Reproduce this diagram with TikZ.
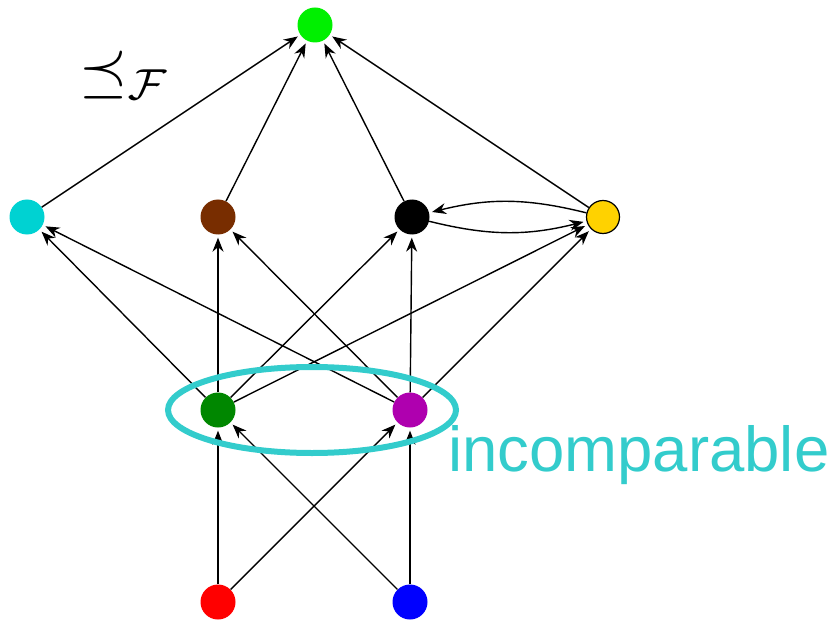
\documentclass[tikz,border=0pt]{standalone}
\usepackage{fontspec}
\newfontfamily\arialfont{Liberation Sans}
\usetikzlibrary{arrows.meta,shapes.geometric}
\begin{document}
\begin{tikzpicture}[x=1pt,y=-1pt,
  vtx/.style={circle,minimum size=35pt,inner sep=0pt},
  edge/.style={line width=1.4pt,-{Stealth[length=14pt,width=11pt]},shorten >=3pt,shorten <=0pt}]
\useasboundingbox (0,0) rectangle (834,620);
\node[vtx,fill={rgb,255:red,0;green,240;blue,0}] (top) at (315,25) {};
\node[vtx,fill={rgb,255:red,0;green,210;blue,210}] (cy) at (27,217) {};
\node[vtx,fill={rgb,255:red,120;green,45;blue,0}] (br) at (218,217) {};
\node[vtx,fill=black] (bk) at (412,217) {};
\node[vtx,fill={rgb,255:red,255;green,210;blue,0},draw=black,line width=1.2pt,minimum size=33pt] (ye) at (603,217) {};
\node[vtx,fill={rgb,255:red,0;green,135;blue,0}] (dg) at (218,410) {};
\node[vtx,fill={rgb,255:red,175;green,0;blue,175}] (mg) at (410,410) {};
\node[vtx,fill={rgb,255:red,255;green,0;blue,0}] (rd) at (218,602) {};
\node[vtx,fill={rgb,255:red,0;green,0;blue,255}] (bl) at (410,602) {};
\foreach \s/\t in {rd/dg,rd/mg,bl/dg,bl/mg,dg/cy,dg/br,dg/bk,dg/ye,mg/cy,mg/br,mg/bk,mg/ye,cy/top,br/top,bk/top,ye/top}
  \draw[edge] (\s) -- (\t);
\draw[edge] (ye) to[bend right=14] (bk);
\draw[edge] (bk) to[bend right=14] (ye);
\node[draw={rgb,255:red,51;green,204;blue,204},line width=6pt,ellipse,minimum width=288pt,minimum height=86pt,inner sep=0pt] (ell) at (312,410) {};
\node[anchor=base west,inner sep=0pt,text={rgb,255:red,51;green,204;blue,204},font=\arialfont\fontsize{63.5}{72}\selectfont] (inc) at (448,471) {incomparable};
\node[inner sep=0pt,scale=6.2] (lab) at (125,75) {$\preceq_{\mathcal F}$};
\end{tikzpicture}
\end{document}
